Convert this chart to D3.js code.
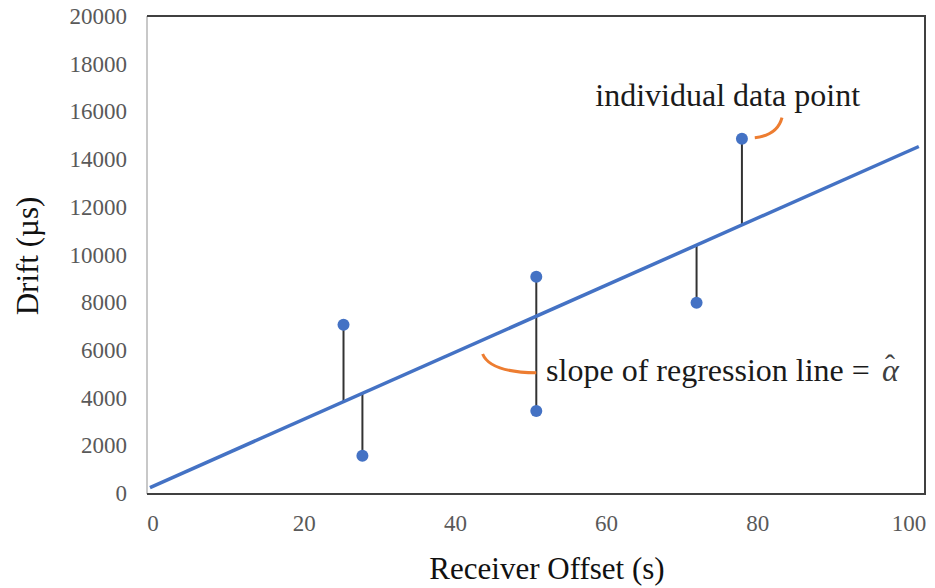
<!DOCTYPE html>
<html>
<head>
<meta charset="utf-8">
<script src="https://cdn.jsdelivr.net/npm/d3@7/dist/d3.min.js"></script>
</head>
<body style="margin:0">
<script>
// data
var offsets = [25.2, 27.7, 50.7, 50.7, 71.9, 77.9];   // receiver offset (s)
var drifts  = [7050, 1560, 9070, 3440, 7980, 14850];  // drift (us)
var fitIntercept = 285, fitSlope = 140.6;             // regression line
var fitRange = [-0.4, 101.3];
var xTicks = [0, 20, 40, 60, 80, 100];
var yTicks = [0, 2000, 4000, 6000, 8000, 10000, 12000, 14000, 16000, 18000, 20000];

// callouts, in data units: [start, control, end]
var calloutTop = [[79.6, 14900], [82.6, 15000], [83.2, 15740]];
var calloutMid = [[43.6, 5830], [44.6, 5060], [50.7, 5040]];

window.onload = function() {
    var w = 935, h = 588;
    var serif = "Liberation Serif";

    var svg = d3.select("body").append("svg")
        .attr("width", w)
        .attr("height", h);

    var x = d3.scaleLinear().domain([0, 100]).range([153, 909]);
    var y = d3.scaleLinear().domain([0, 20000]).range([493, 16]);
    var fit = function(v) { return fitIntercept + fitSlope * v; };

    // --- plot frame ---
    var fLeft = 147, fRight = 925, fTop = 16, fBottom = 494;
    svg.append("line")
        .attr("x1", fLeft).attr("x2", fLeft).attr("y1", fTop).attr("y2", fBottom)
        .attr("stroke", "#c8c8c8").attr("stroke-width", 2);
    svg.append("path")
        .attr("d", "M" + fLeft + "," + fTop + "H" + fRight + "V" + fBottom + "H" + fLeft)
        .attr("fill", "none").attr("stroke", "#404040").attr("stroke-width", 2);

    // --- tick labels ---
    svg.selectAll(".ylab")
        .data(yTicks)
        .enter().append("text")
        .attr("class", "ylab")
        .attr("font-family", serif)
        .attr("font-size", 23)
        .attr("x", 127)
        .attr("y", function(d) { return y(d) + 8; })
        .attr("text-anchor", "end")
        .attr("fill", "#595959")
        .text(function(d) { return d; });

    svg.selectAll(".xlab")
        .data(xTicks)
        .enter().append("text")
        .attr("class", "xlab")
        .attr("font-family", serif)
        .attr("font-size", 23)
        .attr("x", function(d) { return x(d); })
        .attr("y", 531)
        .attr("text-anchor", "middle")
        .attr("fill", "#595959")
        .text(function(d) { return d; });

    // --- axis titles ---
    svg.append("text")
        .attr("font-family", serif)
        .attr("font-size", 31)
        .attr("x", 547).attr("y", 579)
        .attr("text-anchor", "middle")
        .attr("fill", "#111")
        .text("Receiver Offset (s)");

    svg.append("text")
        .attr("font-family", serif)
        .attr("font-size", 31)
        .attr("transform", "translate(38,256) rotate(-90)")
        .attr("text-anchor", "middle")
        .attr("fill", "#111")
        .text("Drift (\u00b5s)");

    // --- residuals ---
    svg.selectAll(".resid")
        .data(offsets)
        .enter().append("line")
        .attr("class", "resid")
        .attr("x1", function(d) { return x(d); })
        .attr("x2", function(d) { return x(d); })
        .attr("y1", function(d, i) { return y(drifts[i]); })
        .attr("y2", function(d) { return y(fit(d)); })
        .attr("stroke", "#333")
        .attr("stroke-width", 2);

    // --- regression line ---
    svg.append("line")
        .attr("x1", x(fitRange[0])).attr("y1", y(fit(fitRange[0])))
        .attr("x2", x(fitRange[1])).attr("y2", y(fit(fitRange[1])))
        .attr("stroke", "#4472c4")
        .attr("stroke-width", 3.5);

    // --- points ---
    svg.selectAll(".pt")
        .data(offsets)
        .enter().append("circle")
        .attr("class", "pt")
        .attr("cx", function(d) { return x(d); })
        .attr("cy", function(d, i) { return y(drifts[i]); })
        .attr("r", 6)
        .attr("fill", "#4472c4");

    // --- callouts ---
    var curve = function(p) {
        return "M" + x(p[0][0]) + "," + y(p[0][1]) +
               "Q" + x(p[1][0]) + "," + y(p[1][1]) + " " + x(p[2][0]) + "," + y(p[2][1]);
    };
    [calloutTop, calloutMid].forEach(function(p) {
        svg.append("path")
            .attr("d", curve(p))
            .attr("fill", "none")
            .attr("stroke", "#ed7d31")
            .attr("stroke-width", 3);
    });

    svg.append("text")
        .attr("font-family", serif)
        .attr("font-size", 32)
        .attr("x", x(58.5)).attr("y", y(16230))
        .attr("fill", "#1a1a1a")
        .text("individual data point");

    svg.append("text")
        .attr("font-family", serif)
        .attr("font-size", 32)
        .attr("x", x(52)).attr("y", y(4710))
        .attr("fill", "#1a1a1a")
        .text("slope of regression line =");

    // alpha with a hat, one text element
    var alpha = svg.append("text")
        .attr("font-family", serif)
        .attr("font-size", 32)
        .attr("x", x(52) + 336).attr("y", y(4710))
        .attr("fill", "#404040");
    alpha.append("tspan")
        .attr("font-style", "italic")
        .text("\u03b1");
    alpha.append("tspan")
        .attr("dx", -14)
        .attr("dy", -6)
        .attr("font-size", 30)
        .text("\u02c6");
};
</script>
</body>
</html>
